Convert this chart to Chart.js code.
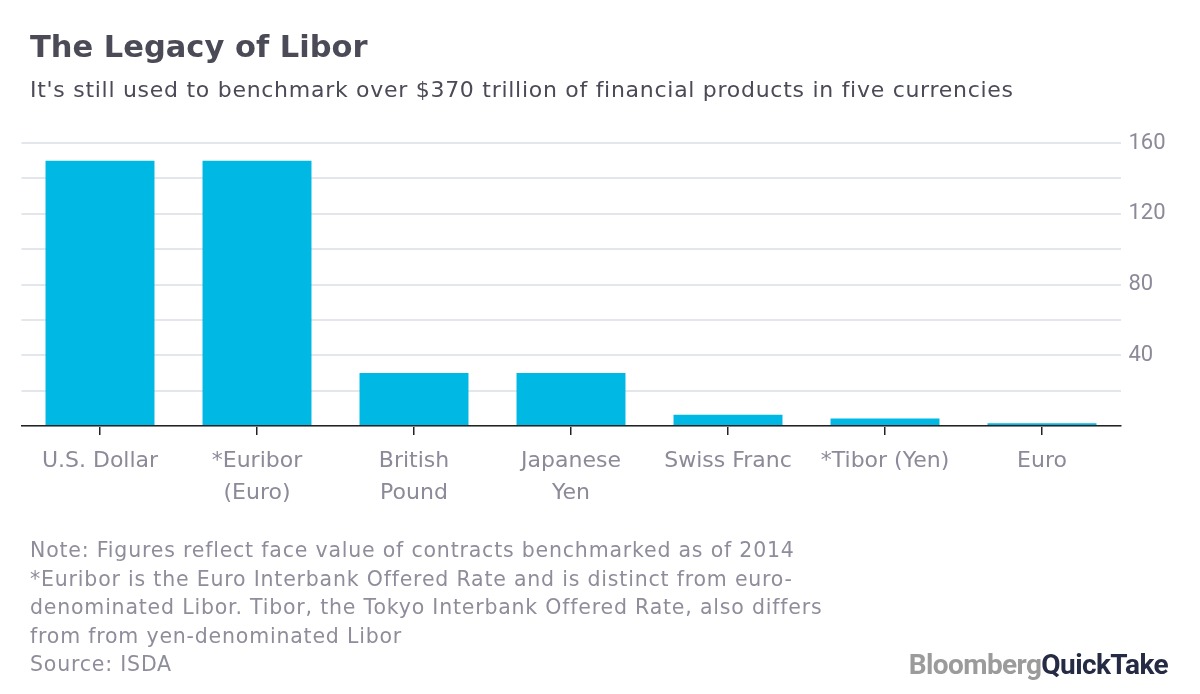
<!DOCTYPE html>
<html>
<head>
<meta charset="utf-8">
<script src="https://cdn.jsdelivr.net/npm/chart.js@4.4.0/dist/chart.umd.min.js"></script>
<style>
  html, body { margin: 0; padding: 0; background: #fff; }
  body { width: 1200px; height: 694px; position: relative; overflow: hidden; font-family: "DejaVu Sans", sans-serif; }
  #wrap { position: absolute; left: 0; top: 0; width: 1200px; height: 694px; }
  .title { position: absolute; left: 30px; top: 29px; font-size: 30.5px; font-weight: 700; color: #4b4a57; white-space: nowrap; }
  .subtitle { position: absolute; left: 30px; top: 77px; font-size: 22px; letter-spacing: 0.72px; color: #4b4a57; white-space: nowrap; }
  .notes { position: absolute; left: 30px; top: 536px; font-size: 20.5px; letter-spacing: 0.8px; line-height: 28.5px; color: #8e8d9b; white-space: nowrap; }
  .logo { position: absolute; right: 32px; top: 648px; font-family: Roboto, sans-serif; font-size: 28px; font-weight: 700; letter-spacing: -0.6px; white-space: nowrap; }
  .logo .b { color: #9b9b9b; }
  .logo .q { color: #262b45; }
</style>
</head>
<body>
<div id="wrap"><canvas id="c" width="1200" height="694"></canvas></div>
<div class="title">The Legacy of Libor</div>
<div class="subtitle">It's still used to benchmark over $370 trillion of financial products in five currencies</div>
<div class="notes">Note: Figures reflect face value of contracts benchmarked as of 2014<br>*Euribor is the Euro Interbank Offered Rate and is distinct from euro-<br>denominated Libor. Tibor, the Tokyo Interbank Offered Rate, also differs<br>from from yen-denominated Libor<br>Source: ISDA</div>
<div class="logo"><span class="b">Bloomberg</span><span class="q">QuickTake</span></div>
<script>
const categories = [["U.S. Dollar"], ["*Euribor", "(Euro)"], ["British", "Pound"], ["Japanese", "Yen"], ["Swiss Franc"], ["*Tibor (Yen)"], ["Euro"]];
const values = [150, 150, 30, 30, 6.3, 4.3, 1.6];
const yTickLabels = [40, 80, 120, 160];

new Chart(document.getElementById('c'), {
  type: 'bar',
  data: {
    labels: categories,
    datasets: [{
      data: values,
      backgroundColor: '#00b8e4',
      borderWidth: 0,
      barPercentage: 0.694,
      categoryPercentage: 1.0
    }]
  },
  options: {
    responsive: false,
    animation: false,
    devicePixelRatio: 1,
    layout: { padding: { left: 21.5, top: 143, right: 0, bottom: 0 } },
    plugins: { legend: { display: false }, tooltip: { enabled: false }, title: { display: false } },
    scales: {
      x: {
        position: 'bottom',
        grid: { display: true, drawOnChartArea: false, drawTicks: true, tickLength: 9, color: '#222', lineWidth: 1.5, offset: false },
        border: { display: true, color: '#222', width: 1.5 },
        ticks: { color: '#8b8a99', font: { family: '"DejaVu Sans"', size: 22, lineHeight: 1.45 }, padding: 10, maxRotation: 0, autoSkip: false },
        afterFit: s => { s.height = 694 - 426; }
      },
      y: {
        position: 'right',
        min: 0, max: 160,
        grid: { color: '#e3e6ea', lineWidth: 2, drawTicks: false },
        border: { display: false },
        ticks: {
          stepSize: 20,
          padding: 8,
          color: '#8b8a99',
          font: { family: 'Roboto', size: 22 },
          callback: v => yTickLabels.includes(v) ? String(v) : ''
        },
        afterFit: s => { s.width = 1200 - 1120.5; }
      }
    }
  }
});
</script>
</body>
</html>
